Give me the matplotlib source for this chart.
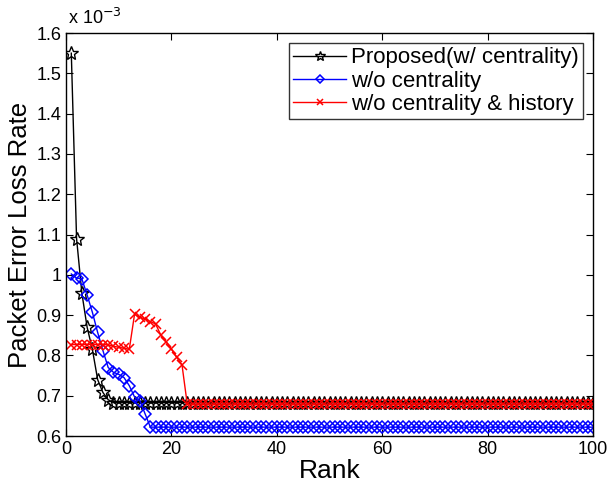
import matplotlib
matplotlib.use("Agg")
import matplotlib.pyplot as plt
from matplotlib.ticker import FormatStrFormatter

plt.rcParams["font.family"] = ["Liberation Sans", "DejaVu Sans"]

# values in units of 1e-3, rank 1..100
rank = list(range(1, 101))

proposed_head = [1.55, 1.09, 0.955, 0.87, 0.815, 0.74, 0.708, 0.69]
proposed_tail = 0.683
proposed = proposed_head + [proposed_tail] * (100 - len(proposed_head))

no_cent_head = [1.002, 0.992, 0.99, 0.95, 0.907, 0.857, 0.812, 0.77,
                0.758, 0.753, 0.745, 0.725, 0.697, 0.688, 0.655]
no_cent_tail = 0.622
no_cent = no_cent_head + [no_cent_tail] * (100 - len(no_cent_head))

no_hist_head = [0.827, 0.827, 0.827, 0.827, 0.827, 0.827, 0.827, 0.826,
                0.823, 0.82, 0.818, 0.815, 0.902, 0.895, 0.89, 0.884,
                0.878, 0.85, 0.834, 0.816, 0.795, 0.777]
no_hist_tail = 0.679
no_hist = no_hist_head + [no_hist_tail] * (100 - len(no_hist_head))

labels = ["Proposed(w/ centrality)", "w/o centrality", "w/o centrality & history"]
xticks = [0, 20, 40, 60, 80, 100]
yticks = [0.6, 0.7, 0.8, 0.9, 1.0, 1.1, 1.2, 1.3, 1.4, 1.5, 1.6]

fig = plt.figure(figsize=(6.08, 4.87), dpi=100)
ax = fig.add_axes([0.1086, 0.1047, 0.8668, 0.8275])

ax.plot(rank, proposed, color="black", lw=1.0, marker="*", ms=10,
        mfc="none", mec="black", mew=1.0, label=labels[0])
ax.plot(rank, no_cent, color="blue", lw=1.0, marker="D", ms=6.5,
        mfc="none", mec="blue", mew=1.1, label=labels[1])
ax.plot(rank, no_hist, color="red", lw=1.0, marker="x", ms=6.5,
        mec="red", mew=1.1, label=labels[2])

ax.set_xlim(0, 100)
ax.set_ylim(0.6, 1.6)
ax.set_xticks(xticks)
ax.set_yticks(yticks)
ax.yaxis.set_major_formatter(FormatStrFormatter("%g"))
ax.tick_params(direction="in", top=True, right=True, labelsize=13, length=5)
for s in ax.spines.values():
    s.set_linewidth(1.0)

ax.set_xlabel("Rank", fontsize=19, labelpad=1)
ax.set_ylabel("Packet Error Loss Rate", fontsize=18.5, labelpad=3)
ax.text(0.003, 1.012, r"x 10$^{-3}$", transform=ax.transAxes, fontsize=13,
        ha="left", va="bottom")

leg = ax.legend(loc="upper right", fontsize=16, frameon=True, fancybox=False,
                edgecolor="black", borderpad=0.2, labelspacing=0.1,
                handlelength=2.4, handletextpad=0.2, borderaxespad=0.45,
                markerscale=0.7)
leg.get_frame().set_linewidth(1.0)

fig.savefig("out.png", dpi=100)
